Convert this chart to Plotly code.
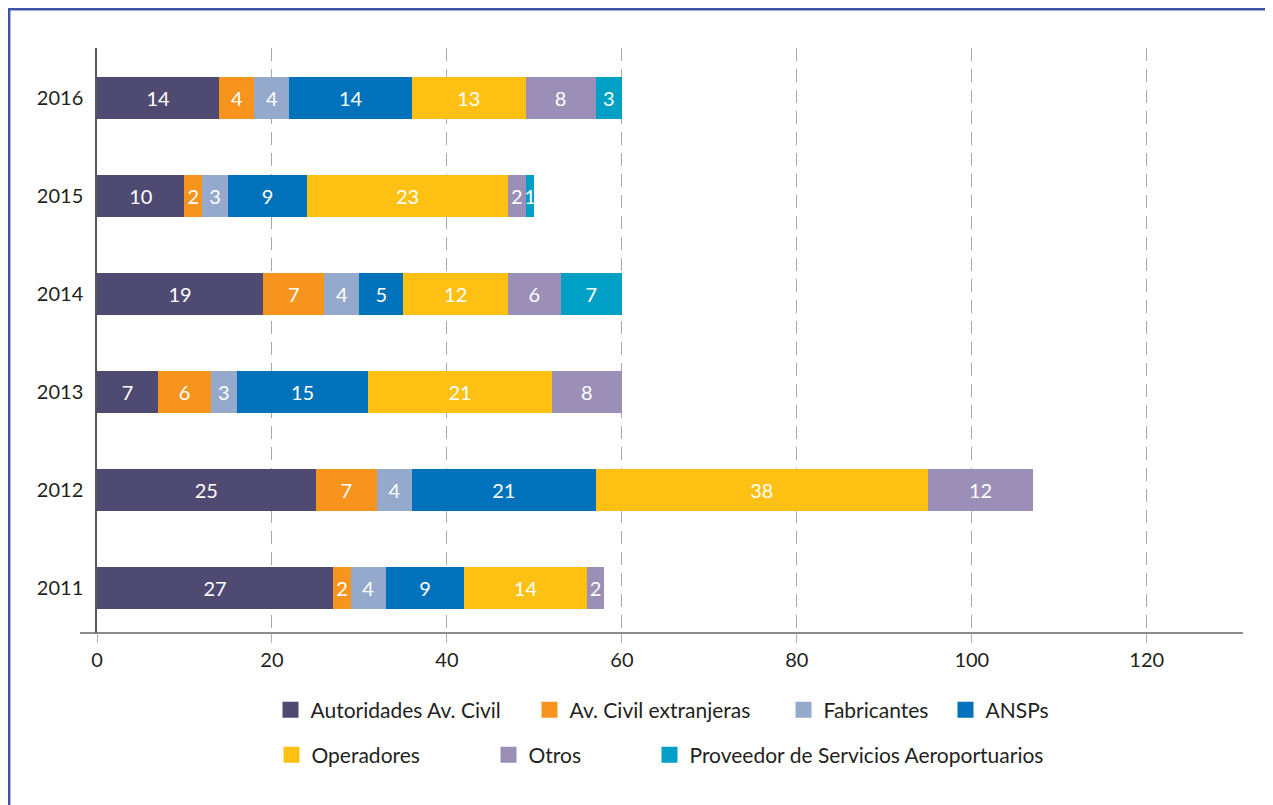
import plotly.graph_objects as go

# years, bottom to top
years = ["2011", "2012", "2013", "2014", "2015", "2016"]

series_names = [
    "Autoridades Av. Civil",
    "Av. Civil extranjeras",
    "Fabricantes",
    "ANSPs",
    "Operadores",
    "Otros",
    "Proveedor de Servicios Aeroportuarios",
]

# values per series, same order as years (None = no segment)
autoridades = [27, 25, 7, 19, 10, 14]
av_civil_ext = [2, 7, 6, 7, 2, 4]
fabricantes = [4, 4, 3, 4, 3, 4]
ansps = [9, 21, 15, 5, 9, 14]
operadores = [14, 38, 21, 12, 23, 13]
otros = [2, 12, 8, 6, 2, 8]
proveedor = [None, None, None, 7, 1, 3]

series_values = [autoridades, av_civil_ext, fabricantes, ansps, operadores, otros, proveedor]

x_ticks = [0, 20, 40, 60, 80, 100, 120]

colors = ["#4f4a72", "#f7941d", "#94a9cc", "#0071bb", "#fec113", "#9b8fb8", "#00a0c6"]

FONT = "Lato"

# page has an 8px body margin, so the figure is 8px smaller than the window
OFF = 8
W, H = 1265, 797
L, R, T, B = 89, 30, 40, 172
PW = W - L - R
PH = H - T - B


# convert a position on the page (window pixels) to paper coords
def px_x(px):
    return (px - OFF - L) / PW


def px_y(py):
    return (H - B - (py - OFF)) / PH


fig = go.Figure()

for name, vals, col in zip(series_names, series_values, colors):
    fig.add_trace(go.Bar(
        y=years,
        x=vals,
        orientation="h",
        name=name,
        marker=dict(color=col, line=dict(width=0)),
        text=[("" if v is None else str(v)) for v in vals],
        textposition="inside",
        insidetextanchor="middle",
        textangle=0,
        constraintext="none",
        textfont=dict(color="white", size=20, family=FONT),
        showlegend=False,
        hoverinfo="x+name",
    ))

# legend: one small legend per entry so the entries sit where the original has them
leg_sq_left = [282, 541, 795, 957, 283, 500, 661]
leg_row_y = [710, 710, 710, 710, 755, 755, 755]

for i, (name, col) in enumerate(zip(series_names, colors)):
    key = "legend" if i == 0 else "legend%d" % (i + 1)
    fig.add_trace(go.Scatter(
        x=[None], y=[None],
        mode="markers",
        marker=dict(symbol="square", size=16, color=col),
        name=name,
        legend=key,
        showlegend=True,
    ))
    fig.update_layout({key: dict(
        x=px_x(leg_sq_left[i] + 9.5 - 21),
        y=px_y(leg_row_y[i]),
        xanchor="left",
        yanchor="middle",
        orientation="h",
        bgcolor="rgba(0,0,0,0)",
        font=dict(family=FONT, size=21, color="#231f20"),
    )})

fig.update_layout(
    width=W,
    height=H,
    barmode="stack",
    bargap=0.57,
    plot_bgcolor="white",
    paper_bgcolor="white",
    margin=dict(l=L, r=R, t=T, b=B),
    font=dict(family=FONT, size=20, color="#231f20"),
    xaxis=dict(
        range=[0, 131],
        tickvals=x_ticks,
        showgrid=True,
        gridcolor="#a8a8a8",
        gridwidth=1,
        griddash="13px,8px",
        zeroline=False,
        showline=False,
        ticks="outside",
        ticklen=9,
        tickcolor="#b0b0b0",
        tickfont=dict(size=20, family=FONT, color="#231f20"),
    ),
    yaxis=dict(
        type="category",
        range=[-0.46, 5.51],
        showgrid=False,
        zeroline=False,
        showline=True,
        linecolor="#555555",
        linewidth=1.5,
        ticks="",
        ticklabelstandoff=8,
        tickfont=dict(size=20, family=FONT, color="#231f20"),
    ),
    shapes=[
        # bottom axis line, running a bit left of zero like the original
        dict(type="line", xref="paper", yref="paper",
             x0=px_x(80), x1=1, y0=0, y1=0,
             line=dict(color="#666666", width=1.5)),
        # blue frame round the chart
        dict(type="rect", xref="paper", yref="paper",
             x0=px_x(9.2), x1=px_x(1300), y0=px_y(830), y1=px_y(9.2),
             line=dict(color="#3b54a5", width=2.4)),
    ],
)

fig.write_html("out.html")
